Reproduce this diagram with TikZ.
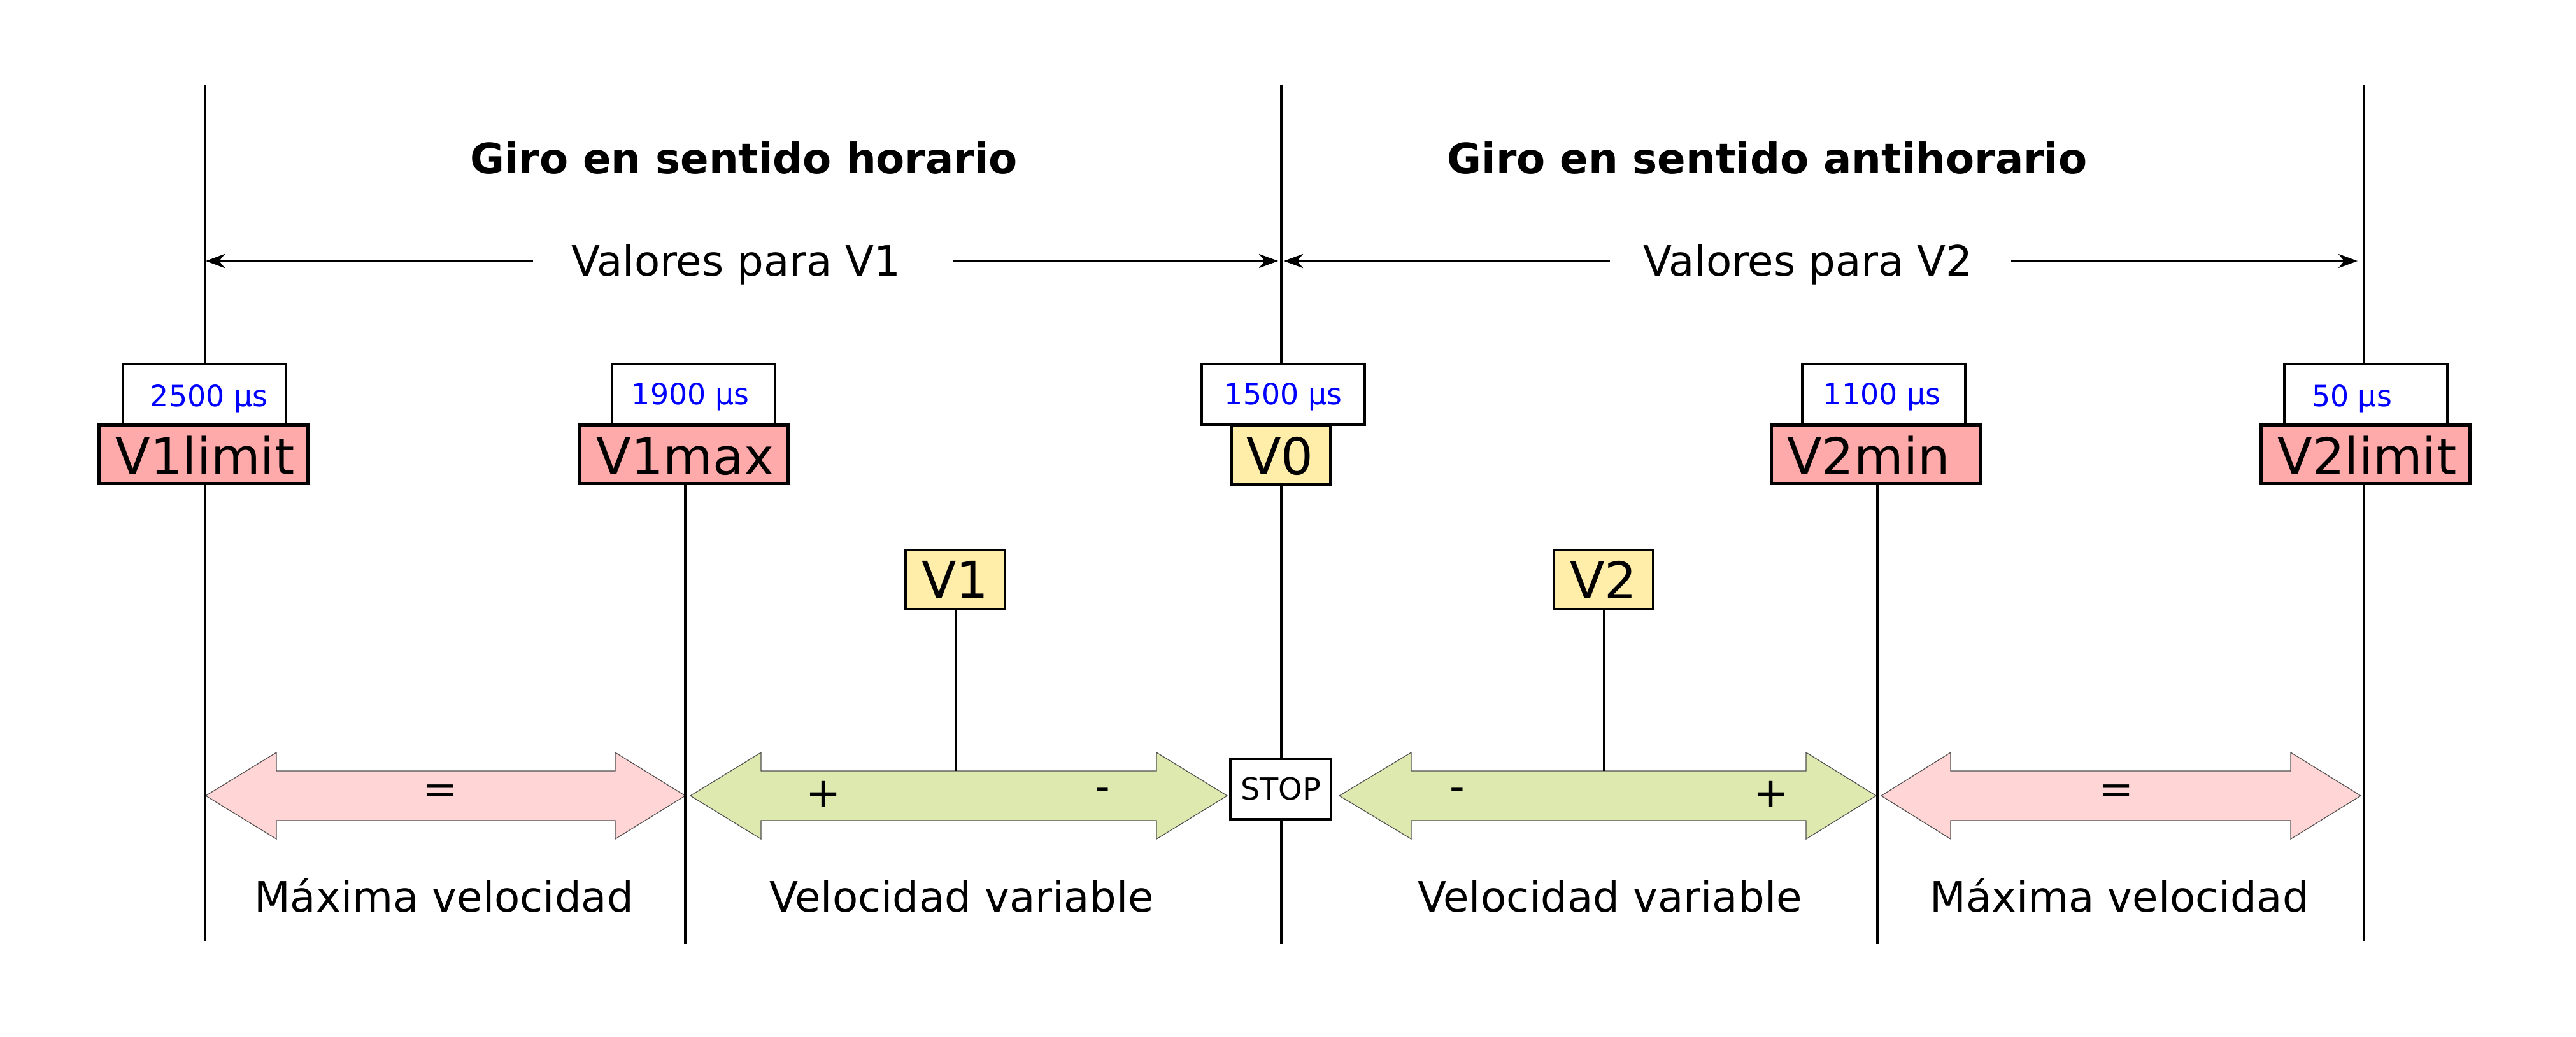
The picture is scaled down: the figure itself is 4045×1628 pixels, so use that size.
\documentclass[tikz,border=0pt]{standalone}
\usepackage{fontspec}
\setmainfont{DejaVu Sans}
\usetikzlibrary{arrows.meta}
\definecolor{boxred}{HTML}{FFAAAA}
\definecolor{boxyel}{HTML}{FFEEAA}
\definecolor{arrpink}{HTML}{FFD5D5}
\definecolor{arrgreen}{HTML}{DDE9AF}
\definecolor{arredge}{HTML}{505050}
\begin{document}
\begin{tikzpicture}[x=1bp,y=-1bp,
  vline/.style={line width=3.5bp},
  smallbox/.style={draw, line width=3.5bp, fill=white, minimum width=256bp, minimum height=95bp, inner sep=0pt},
  bigbox/.style={draw, line width=5bp, fill=boxred, minimum width=328bp, minimum height=92bp, inner sep=0pt},
  yelbox/.style={draw, line width=4bp, fill=boxyel, minimum width=156bp, minimum height=93bp, inner sep=0pt, font=\fontsize{80}{90}\selectfont},
  numtxt/.style={text=blue, font=\fontsize{46}{54}\selectfont, anchor=base, inner sep=0pt},
  bigtxt/.style={font=\fontsize{80}{96}\selectfont, anchor=base, inner sep=0pt},
  titletxt/.style={font=\bfseries\fontsize{66}{80}\selectfont, anchor=base, inner sep=0pt},
  regtxt/.style={font=\fontsize{66}{80}\selectfont, anchor=base, inner sep=0pt},
  signtxt/.style={font=\fontsize{66}{80}\selectfont, inner sep=0pt},
  harrow/.style={line width=4bp, -{Stealth[length=30bp,width=22bp,inset=9bp]}},
  bigarrow/.style={draw=arredge, line width=1.2bp},
  conn/.style={line width=3bp}]
\useasboundingbox (0,0) rectangle (4045,1628);

% titles
\node[titletxt] (tit1) at (1168,272) {Giro en sentido horario};
\node[titletxt] (tit2) at (2775,272) {Giro en sentido antihorario};

% value ranges
\node[regtxt] (val1) at (1156,433) {Valores para V1};
\node[regtxt] (val2) at (2839,433) {Valores para V2};
\coordinate (h1a) at (837,410);  \coordinate (h1b) at (323,410);
\coordinate (h1c) at (1496,410); \coordinate (h1d) at (2007,410);
\coordinate (h2a) at (2528,410); \coordinate (h2b) at (2016,410);
\coordinate (h2c) at (3158,410); \coordinate (h2d) at (3702,410);
\draw[harrow] (h1a) -- (h1b);
\draw[harrow] (h1c) -- (h1d);
\draw[harrow] (h2a) -- (h2b);
\draw[harrow] (h2c) -- (h2d);

% top / bottom ends of vertical lines
\coordinate (t1) at (322,134);  \coordinate (e1) at (322,1478);
\coordinate (e2) at (1076,1483);
\coordinate (t3) at (2012,134); \coordinate (e3) at (2012,1483);
\coordinate (e4) at (2948,1483);
\coordinate (t5) at (3712,134); \coordinate (e5) at (3712,1478);

% double arrows
\filldraw[bigarrow, fill=arrpink] (323,1250) -- (434,1182) -- (434,1211) -- (966,1211) -- (966,1182) -- (1076,1250) -- (966,1318) -- (966,1289) -- (434,1289) -- (434,1318) -- cycle;
\filldraw[bigarrow, fill=arrgreen] (1084,1250) -- (1195,1182) -- (1195,1211) -- (1816,1211) -- (1816,1182) -- (1927,1250) -- (1816,1318) -- (1816,1289) -- (1195,1289) -- (1195,1318) -- cycle;
\filldraw[bigarrow, fill=arrgreen] (2103,1250) -- (2216,1182) -- (2216,1211) -- (2836,1211) -- (2836,1182) -- (2946,1250) -- (2836,1318) -- (2836,1289) -- (2216,1289) -- (2216,1318) -- cycle;
\filldraw[bigarrow, fill=arrpink] (2954,1250) -- (3063,1182) -- (3063,1211) -- (3597,1211) -- (3597,1182) -- (3707,1250) -- (3597,1318) -- (3597,1289) -- (3063,1289) -- (3063,1318) -- cycle;
\coordinate (a1top) at (1500,1211);
\coordinate (a2top) at (2518,1211);

% signs
\node[signtxt] (eq1) at (691,1248) {=};
\node[signtxt] (p1) at (1293,1248) {+};
\node[signtxt] (m1) at (1731,1248) {-};
\node[signtxt] (m2) at (2288,1248) {-};
\node[signtxt] (p2) at (2781,1248) {+};
\node[signtxt] (eq2) at (3323,1248) {=};

% small value boxes
\node[smallbox] (b1) at (321,619.5) {};
\node[smallbox] (b2) at (1089.5,619.5) {};
\node[smallbox] (b3) at (2015,619.5) {};
\node[smallbox] (b4) at (2958,619.5) {};
\node[smallbox] (b5) at (3715,619.5) {};
\node[numtxt] (n1) at (328,638) {2500 µs};
\node[numtxt] (n2) at (1084,635) {1900 µs};
\node[numtxt] (n3) at (2015,635) {1500 µs};
\node[numtxt] (n4) at (2955,635) {1100 µs};
\node[numtxt] (n5) at (3693,638) {50 µs};

% big label boxes
\node[bigbox] (L1) at (319.5,713) {};
\node[bigbox] (L2) at (1073.5,713) {};
\node[bigbox, fill=boxyel, minimum width=156bp, minimum height=94bp] (L0) at (2011,714) {};
\node[bigbox] (L3) at (2945,713) {};
\node[bigbox] (L4) at (3714,713) {};
\node[bigtxt] (l1) at (322,745) {V1limit};
\node[bigtxt] (l2) at (1076,745) {V1max};
\node[bigtxt] (l0) at (2010,745) {V0};
\node[bigtxt] (l3) at (2934,745) {V2min};
\node[bigtxt] (l4) at (3717,745) {V2limit};

% STOP and V1 / V2 boxes
\node[draw, line width=4bp, fill=white, minimum width=158bp, minimum height=95bp, inner sep=0pt, font=\fontsize{48}{56}\selectfont] (stop) at (2011,1239.5) {STOP};
\node[yelbox] (v1) at (1500,910.5) {V1};
\node[yelbox] (v2) at (2518,910.5) {V2};

% vertical lines
\draw[vline] (t1) -- (t1 |- b1.north);
\draw[vline] (e1 |- L1.south) -- (e1);
\draw[vline] (e2 |- L2.south) -- (e2);
\draw[vline] (t3) -- (t3 |- b3.north);
\draw[vline] (e3 |- L0.south) -- (e3 |- stop.north);
\draw[vline] (e3 |- stop.south) -- (e3);
\draw[vline] (e4 |- L3.south) -- (e4);
\draw[vline] (t5) -- (t5 |- b5.north);
\draw[vline] (e5 |- L4.south) -- (e5);

% V1 / V2 connectors
\draw[conn] (v1.south) -- (a1top);
\draw[conn] (v2.south) -- (a2top);

% bottom texts
\node[regtxt] (bt1) at (697,1432) {Máxima velocidad};
\node[regtxt] (bt2) at (1510,1432) {Velocidad variable};
\node[regtxt] (bt3) at (2528,1432) {Velocidad variable};
\node[regtxt] (bt4) at (3328,1432) {Máxima velocidad};
\end{tikzpicture}
\end{document}
